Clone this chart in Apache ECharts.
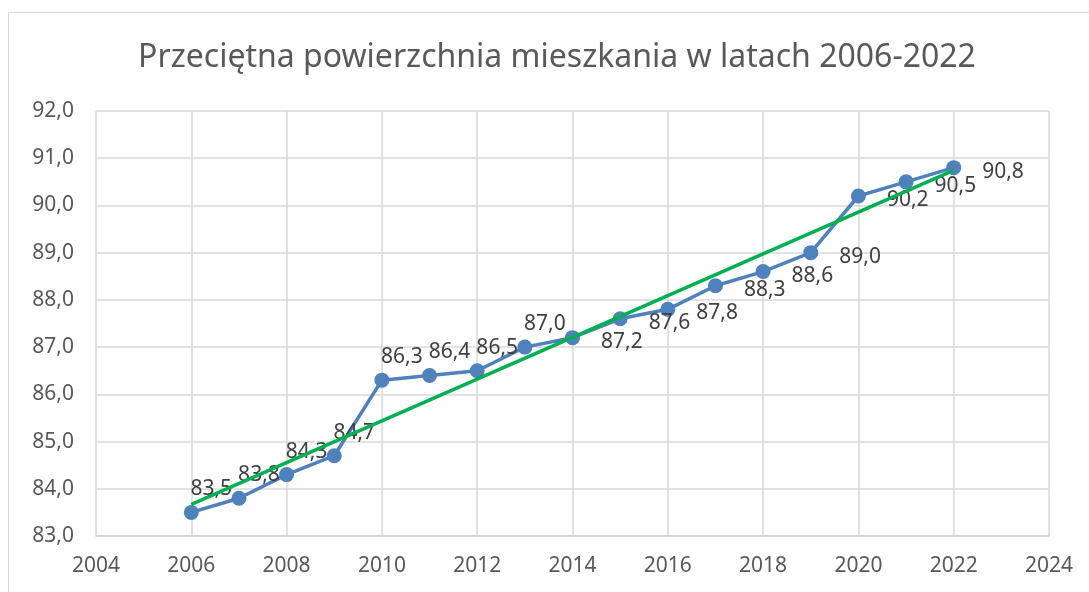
<!DOCTYPE html>
<html>
<head>
<meta charset="utf-8">
<script src="https://cdn.jsdelivr.net/npm/echarts@6/dist/echarts.min.js"></script>
<style>
  html, body { margin: 0; padding: 0; background: #fff; overflow: hidden; }
  .frame {
    position: absolute;
    left: 8px;
    top: 12px;
    width: 1096px;
    height: 600px;
    border: 1px solid #d9d9d9;
  }
  #chart { width: 1096px; height: 600px; }
</style>
</head>
<body>
<div class="frame"><div id="chart"></div></div>
<script>
// dane
const years = [2006, 2007, 2008, 2009, 2010, 2011, 2012, 2013, 2014, 2015, 2016, 2017, 2018, 2019, 2020, 2021, 2022]
const area = [83.5, 83.8, 84.3, 84.7, 86.3, 86.4, 86.5, 87.0, 87.2, 87.6, 87.8, 88.3, 88.6, 89.0, 90.2, 90.5, 90.8]
const xTicks = [2004, 2006, 2008, 2010, 2012, 2014, 2016, 2018, 2020, 2022, 2024]
const yTicks = [83, 84, 85, 86, 87, 88, 89, 90, 91, 92]

const FONT = '"Noto Sans", "Open Sans", sans-serif'
const fmt = v => v.toFixed(1).replace('.', ',')

// linia trendu (regresja liniowa)
function linearTrend(xs, ys) {
  const n = xs.length
  const mx = xs.reduce((a, b) => a + b, 0) / n
  const my = ys.reduce((a, b) => a + b, 0) / n
  let sxy = 0, sxx = 0
  for (let i = 0; i < n; i++) {
    sxy += (xs[i] - mx) * (ys[i] - my)
    sxx += (xs[i] - mx) * (xs[i] - mx)
  }
  const b = sxy / sxx
  const a = my - b * mx
  const x0 = xs[0], x1 = xs[n - 1]
  return [[x0, a + b * x0], [x1, a + b * x1]]
}

const chart = echarts.init(document.getElementById('chart'))
chart.setOption({
  animation: false,
  title: {
    text: 'Przeciętna powierzchnia mieszkania w latach 2006-2022',
    left: 'center',
    top: 29,
    padding: 0,
    textStyle: { fontFamily: FONT, fontSize: 32, fontWeight: 'normal', color: '#595959' }
  },
  grid: { left: 87, top: 98, width: 953, height: 425 },
  xAxis: {
    type: 'value',
    min: xTicks[0],
    max: xTicks[xTicks.length - 1],
    interval: xTicks[1] - xTicks[0],
    axisLine: { show: true, lineStyle: { color: '#d0d0d0', width: 1.5 } },
    axisTick: { show: false },
    splitLine: { show: true, lineStyle: { color: '#d9d9d9', width: 1.5 } },
    axisLabel: {
      margin: 20,
      fontFamily: FONT, fontSize: 21, lineHeight: 21, color: '#595959',
      formatter: v => String(v)
    }
  },
  yAxis: {
    type: 'value',
    min: yTicks[0],
    max: yTicks[yTicks.length - 1],
    interval: yTicks[1] - yTicks[0],
    axisLine: { show: false },
    axisTick: { show: false },
    splitLine: { show: true, lineStyle: { color: '#d9d9d9', width: 1.5 } },
    axisLabel: {
      margin: 22,
      fontFamily: FONT, fontSize: 21, color: '#595959',
      formatter: fmt
    }
  },
  series: [
    {
      name: 'Powierzchnia',
      type: 'line',
      data: years.map((y, i) => ({
        value: [y, area[i]],
        // etykiety: do 2013 nad punktem, potem z prawej
        label: i < 8
          ? { position: 'top', offset: [20, 0] }
          : { position: 'right', offset: [16, 4] }
      })),
      symbol: 'circle',
      symbolSize: 15,
      lineStyle: { color: '#4f81bd', width: 3.5 },
      itemStyle: { color: '#4f81bd' },
      label: {
        show: true,
        fontFamily: FONT, fontSize: 21, color: '#404040',
        formatter: p => fmt(p.value[1])
      },
      z: 2
    },
    {
      name: 'Trend',
      type: 'line',
      data: linearTrend(years, area),
      symbol: 'none',
      lineStyle: { color: '#00b050', width: 3.5 },
      z: 3
    }
  ]
})
</script>
</body>
</html>
